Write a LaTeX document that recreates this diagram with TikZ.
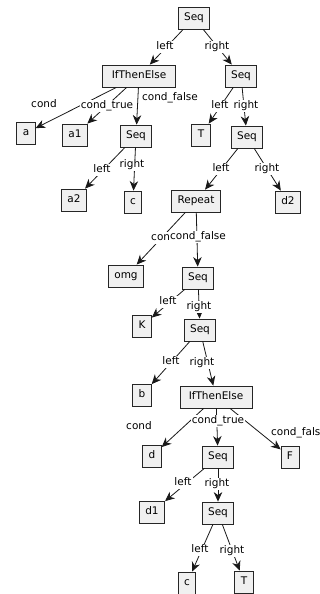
\documentclass[tikz,border=0pt]{standalone}
\usepackage{fontspec}
\setmainfont{DejaVu Sans}
\usetikzlibrary{arrows.meta}

\tikzset{
  treenode/.style={draw=black!85, fill=black!6, line width=0.8pt,
    inner xsep=6pt, inner ysep=0pt, minimum height=22pt,
    text height=8pt, text depth=2.5pt, font=\fontsize{10.5}{12}\selectfont},
  wide/.style={minimum width=73pt},
  link/.style={draw=black!90, line width=0.8pt,
    -{Stealth[length=9.5pt, width=8.5pt, inset=3pt]}},
  tag/.style={fill=white, inner sep=1pt, text height=7.5pt, text depth=2.5pt,
    font=\fontsize{10.5}{12}\selectfont},
}

\begin{document}
\begin{tikzpicture}[x=1pt, y=-1pt]
\useasboundingbox (0,0) rectangle (320,594);
\fill[white] (0,0) rectangle (320,594);

% tree nodes
\node[treenode] (root) at (194,18) {Seq};
\node[treenode, wide] (ite1) at (139,76) {IfThenElse};
\node[treenode] (seqr1) at (241,76) {Seq};
\node[treenode] (a) at (26,133) {a};
\node[treenode] (a1) at (75,135) {a1};
\node[treenode] (seql) at (136,136) {Seq};
\node[treenode] (t1) at (201,135) {T};
\node[treenode] (seqr2) at (247,137) {Seq};
\node[treenode] (a2) at (74,200) {a2};
\node[treenode] (c1) at (133,202) {c};
\node[treenode] (rep) at (196,201) {Repeat};
\node[treenode] (d2) at (288,202) {d2};
\node[treenode] (omg) at (126,276) {omg};
\node[treenode] (seqa) at (198,278) {Seq};
\node[treenode] (k) at (142,326) {K};
\node[treenode] (seqb) at (200,330) {Seq};
\node[treenode] (b) at (142,395) {b};
\node[treenode, minimum width=72pt] (ite2) at (216,397) {IfThenElse};
\node[treenode] (d) at (152,456) {d};
\node[treenode] (seqc) at (218,457) {Seq};
\node[treenode] (f) at (290,457) {F};
\node[treenode] (d1) at (152,512) {d1};
\node[treenode] (seqd) at (218,513) {Seq};
\node[treenode] (c2) at (187,583) {c};
\node[treenode] (t2) at (244,582) {T};

% connectors
\draw[link] (root) -- (ite1);
\draw[link] (root) -- (seqr1);
\draw[link] (ite1) -- (a);
\draw[link] (ite1) -- (a1);
\draw[link] (ite1) -- (seql);
\draw[link] (seqr1) -- (t1);
\draw[link] (seqr1) -- (seqr2);
\draw[link] (seql) -- (a2);
\draw[link] (seql) -- (c1);
\draw[link] (seqr2) -- (rep);
\draw[link] (seqr2) -- (d2);
\draw[link] (rep) -- (omg);
\draw[link] (rep) -- (seqa);
\draw[link] (seqa) -- (k);
\draw[link] (seqa) -- (seqb);
\draw[link] (seqb) -- (b);
\draw[link] (seqb) -- (ite2);
\draw[link] (ite2) -- (d);
\draw[link] (ite2) -- (seqc);
\draw[link] (ite2) -- (f);
\draw[link] (seqc) -- (d1);
\draw[link] (seqc) -- (seqd);
\draw[link] (seqd) -- (c2);
\draw[link] (seqd) -- (t2);

% connector labels
\node[tag] (l1) at (165,47) {left};
\node[tag] (l2) at (217,47) {right};
\node[tag] (l3) at (44,105) {cond};
\node[tag] (l4) at (107,106) {cond\_true};
\node[tag] (l5) at (170,98) {cond\_false};
\node[tag] (l6) at (220,106) {left};
\node[tag] (l7) at (246,106) {right};
\node[tag] (l8) at (102,170) {left};
\node[tag] (l9) at (132,165) {right};
\node[tag] (l10) at (221,169) {left};
\node[tag] (l11) at (267,169) {right};
\node[tag] (l12) at (164,238) {cond};
\node[tag] (l13) at (198,237) {cond\_false};
\node[tag] (l14) at (168,302) {left};
\node[tag] (l15) at (199,307) {right};
\node[tag] (l16) at (171,362) {left};
\node[tag] (l17) at (202,363) {right};
\node[tag] (l18) at (139,427) {cond};
\node[tag] (l19) at (218,421) {cond\_true};
\node[tag] (l20) at (299,433) {cond\_false};
\node[tag] (l21) at (183,483) {left};
\node[tag] (l22) at (217,484) {right};
\node[tag] (l23) at (200,550) {left};
\node[tag] (l24) at (232,551) {right};
\end{tikzpicture}
\end{document}
